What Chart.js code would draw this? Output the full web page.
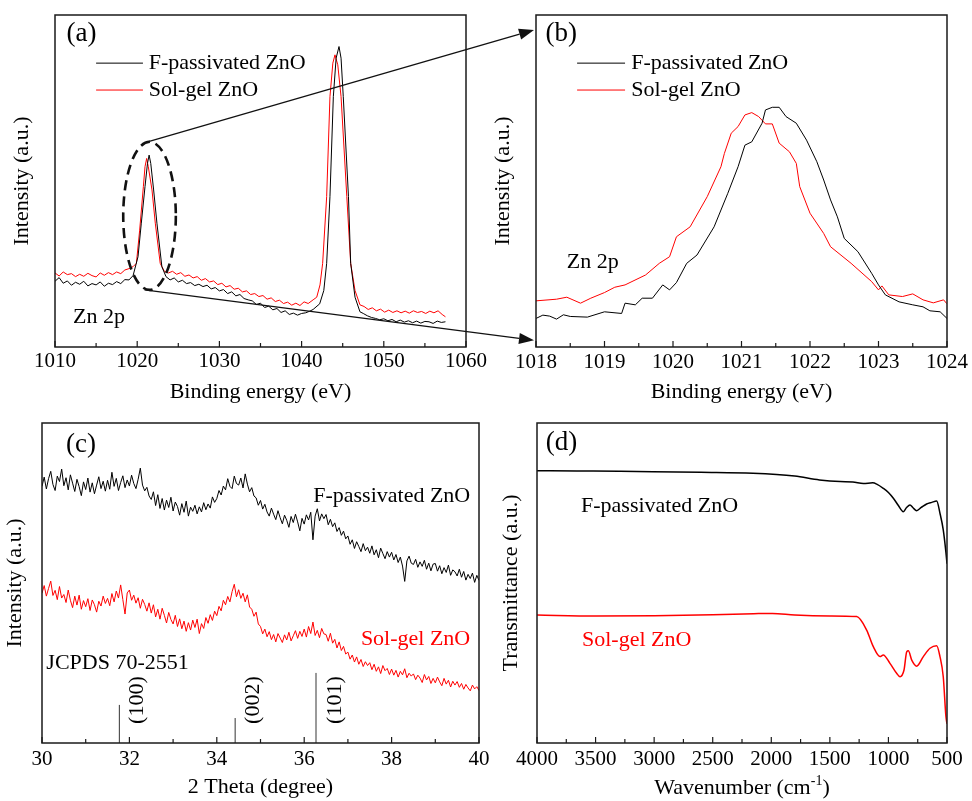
<!DOCTYPE html>
<html>
<head>
<meta charset="utf-8">
<script src="https://cdn.jsdelivr.net/npm/chart.js@4.4.1/dist/chart.umd.min.js"></script>
<style>
html, body { margin: 0; padding: 0; background: #fff; }
#page { position: relative; width: 972px; height: 801px; overflow: hidden; }
#page canvas { position: absolute; }
</style>
</head>
<body>
<div id="page">
  <canvas id="chartA" width="500" height="405" style="left:0;top:0"></canvas>
  <canvas id="chartB" width="486" height="405" style="left:486px;top:0"></canvas>
  <canvas id="chartC" width="500" height="396" style="left:0;top:405px"></canvas>
  <canvas id="chartD" width="486" height="396" style="left:486px;top:405px"></canvas>
  <canvas id="overlay" width="972" height="801" style="left:0;top:0;pointer-events:none"></canvas>
</div>
<script>

// ---- data (intensity in arbitrary units, 0-100 of the frame) ----
const seriesNames = ['F-passivated ZnO', 'Sol-gel ZnO'];

// (a) XPS survey around Zn 2p
const aBlack = [[1010,19.8],[1010.5,20.9],[1011,19.2],[1011.5,19.9],[1012,18.6],[1012.5,19.5],[1013,18.9],[1013.5,19.8],[1014,18.4],[1014.5,19.1],[1015,18.7],[1015.5,19.6],[1016,18.3],[1016.5,19.2],[1017,18.8],[1017.5,19.7],[1018,19.1],[1018.5,20.3],[1019,20.2],[1019.5,21.5],[1020.1,27.2],[1020.5,37.3],[1020.95,48.3],[1021.25,55.3],[1021.45,57.8],[1021.65,55.3],[1022,47.3],[1022.4,37.3],[1023,24.2],[1023.5,21.2],[1024,20.2],[1024.5,20.8],[1025,19.6],[1025.5,20.1],[1026,19.1],[1026.5,19.4],[1027,18.5],[1027.5,18.9],[1028,18.2],[1028.5,18.6],[1029,17.5],[1029.5,17.9],[1030,16.9],[1030.5,17.3],[1031,16.1],[1031.5,16.6],[1032,15.4],[1032.5,15.8],[1033,14.6],[1033.5,14.2],[1034,13.9],[1034.5,12.8],[1035,13.2],[1035.5,11.9],[1036,12.3],[1036.5,11.2],[1037,11.6],[1037.5,10.4],[1038,10.9],[1038.5,9.8],[1039,10.2],[1039.5,9.6],[1040,10.1],[1040.5,10.3],[1041,10.8],[1041.4,11.3],[1042.2,13],[1042.7,17],[1043.05,25.2],[1043.45,45.3],[1043.86,75.4],[1044.2,87],[1044.55,90.5],[1044.8,87],[1045.07,75.4],[1045.7,45.3],[1045.97,25.2],[1046.5,15],[1047.1,10.6],[1047.5,10.1],[1048,9.4],[1048.5,8.9],[1049,8.6],[1049.5,8.2],[1050,8.5],[1050.5,7.9],[1051,8.3],[1051.5,7.6],[1052,8.1],[1052.5,7.5],[1053,7.9],[1053.5,7.3],[1054,7.8],[1054.5,7.2],[1055,7.7],[1055.5,7.6],[1056,7.1],[1056.5,7.8],[1057,7.4],[1057.5,7.6]];
const aRed = [[1010,22.3],[1010.5,21.4],[1011,22.6],[1011.5,21.8],[1012,22.1],[1012.5,21.2],[1013,21.9],[1013.5,21.3],[1014,22.2],[1014.5,21.5],[1015,21.1],[1015.5,22.3],[1016,21.6],[1016.5,22.4],[1017,21.8],[1017.5,22.6],[1018,22.1],[1018.5,23.2],[1019,23.6],[1019.5,24.2],[1019.9,25.2],[1020.3,35.2],[1020.75,48.3],[1020.95,54.3],[1021.15,56.8],[1021.35,54.3],[1021.8,47.3],[1022.2,37.3],[1022.8,25.2],[1023.3,22.8],[1023.8,22.3],[1024.3,22.8],[1024.8,21.9],[1025.3,22.4],[1025.8,21.3],[1026.3,21.7],[1026.8,20.8],[1027.3,21.2],[1027.8,20.1],[1028.3,20.6],[1028.8,19.6],[1029.3,19.9],[1029.8,18.8],[1030.3,19.2],[1030.8,18.1],[1031.3,18.5],[1031.8,17.4],[1032.3,17.7],[1032.8,16.6],[1033.3,16.9],[1033.8,15.8],[1034.3,16.1],[1034.8,15.2],[1035.3,15.5],[1035.8,14.4],[1036.3,14.8],[1036.8,13.7],[1037.3,14.1],[1037.8,13.1],[1038.3,13.5],[1038.8,12.6],[1039.3,13.2],[1039.8,12.5],[1040.3,13.6],[1040.8,13.1],[1041.4,14.2],[1041.84,15],[1042.24,18.7],[1042.56,25.2],[1043.05,45.3],[1043.45,75.4],[1043.8,85.5],[1044.06,88],[1044.4,85],[1044.8,75.4],[1045.5,45.3],[1045.97,25.2],[1046.5,17],[1047.1,12.7],[1047.6,12.2],[1048.1,11.3],[1048.6,11.8],[1049.1,10.9],[1049.6,11.4],[1050.1,10.5],[1050.6,11.1],[1051.1,10.4],[1051.6,10.9],[1052.1,10.3],[1052.6,10.8],[1053.1,10.2],[1053.6,10.9],[1054.1,10.4],[1054.6,10.7],[1055.1,10.1],[1055.6,10.8],[1056.1,10.3],[1056.6,10.9],[1057.1,9.8],[1057.5,9.1]];

// (b) zoom on the Zn 2p3/2 peak
const bBlack = [[1018,8.6],[1018.1,9.6],[1018.2,9.3],[1018.3,8.4],[1018.4,9.7],[1018.5,9.2],[1018.75,9.0],[1019,10.6],[1019.25,10.1],[1019.3,13.2],[1019.45,12.7],[1019.55,14.7],[1019.7,14.7],[1019.85,18.7],[1019.95,17.2],[1020.05,19.4],[1020.2,25.2],[1020.35,27.7],[1020.6,36.2],[1020.8,46.3],[1020.95,54.3],[1021.05,60.8],[1021.15,61.8],[1021.3,67.4],[1021.35,71.4],[1021.45,72.2],[1021.55,72.2],[1021.65,69.4],[1021.8,67.4],[1021.95,62.3],[1022.1,55.8],[1022.2,50.3],[1022.3,44.3],[1022.4,39.2],[1022.5,32.7],[1022.7,28.7],[1022.9,22.2],[1023,18.7],[1023.1,15.7],[1023.3,13.6],[1023.5,12.7],[1023.65,12.1],[1023.75,10.9],[1023.9,10.6],[1024,8.6]];
const bRed = [[1018,13.9],[1018.3,14.4],[1018.45,15],[1018.65,13.2],[1018.8,14.7],[1019,16.4],[1019.15,18],[1019.3,18.7],[1019.6,21.7],[1019.8,25.2],[1019.95,27.2],[1020.05,33.2],[1020.25,36.2],[1020.5,45.3],[1020.7,54.3],[1020.75,58.3],[1020.85,64.4],[1020.95,66.4],[1021.05,69.9],[1021.15,70.6],[1021.25,69.4],[1021.35,67.2],[1021.45,67.2],[1021.55,61.4],[1021.7,58.8],[1021.8,55.3],[1021.85,48.3],[1022,40.3],[1022.2,34.2],[1022.3,30.2],[1022.6,25.2],[1022.9,19.7],[1023,17.2],[1023.05,18.4],[1023.15,15.7],[1023.35,15.2],[1023.5,16],[1023.65,14.2],[1023.8,13.3],[1023.95,14.2],[1024,13]];

// (c) XRD, 2theta sampled every 0.05 degree from 30
const cStart = 30, cStep = 0.05;
const cBlack = [80.2,83.1,79.4,82.6,84.9,80.8,78.9,83.4,81.7,85.6,
  80.4,82.9,79.1,83.8,81.2,78.6,82.4,80.1,77.3,81.6,
  79.2,82.8,78.4,81.3,77.9,80.6,83.2,79.5,81.8,78.7,
  82.1,79.3,84.6,80.2,82.7,78.9,81.4,83.5,79.8,82.2,
  80.3,83.7,81.1,79.5,82.4,85.9,80.6,78.8,79.9,77.2,
  76.1,78.5,74.2,77.6,73.3,76.4,72.8,75.9,73.6,76.8,
  72.5,75.3,73.9,71.2,74.8,72.1,75.6,70.9,73.7,72.4,
  74.3,71.6,73.8,72.2,75.1,72.9,74.7,73.4,76.9,75.2,
  76.4,78.9,77.5,80.3,79.1,82.6,80.2,79.5,83.4,81.1,
  80.6,82.8,79.7,84.1,80.9,78.5,79.8,77.2,76.6,74.3,
  75.8,73.1,74.6,72.2,70.9,73.4,71.5,69.8,72.6,70.4,
  68.5,71.2,69.6,67.4,70.8,68.9,71.5,69.1,66.3,70.2,
  68.4,71.3,69.7,72.1,63.5,70.9,73.2,69.4,71.6,70.1,
  71.4,68.2,69.9,67.6,68.8,66.1,67.3,64.9,66.2,63.8,
  64.7,62.1,63.5,60.8,62.9,61.4,59.8,62.3,60.1,61.2,
  59.3,61.6,58.8,60.4,57.9,60.9,59.2,57.6,59.8,58.1,
  59.6,57.2,58.9,56.4,58.1,55.3,50.5,56.9,58.4,56.2,
  55.8,57.4,54.9,56.6,55.2,57.1,54.3,56.2,53.8,55.9,
  56.1,53.7,55.4,52.9,54.8,53.3,55.6,52.4,54.1,53.5,
  52.2,54.3,51.8,53.6,50.9,52.7,51.4,53.1,50.2,52.4,
  50.8];
const cRed = [46.8,49.2,45.9,48.3,50.6,46.1,47.7,44.8,48.9,45.3,
  46.4,43.9,47.8,44.6,42.3,45.9,43.1,46.2,41.8,44.5,
  42.6,45.1,41.4,44.7,43.2,40.9,44.3,42.8,45.9,43.6,
  45.2,42.9,46.7,44.1,47.5,45.3,49.4,44.8,40.3,46.9,
  47.8,44.6,46.2,43.7,45.4,42.1,44.9,43.3,41.2,43.8,
  40.6,43.2,39.4,41.8,38.7,42.1,39.9,37.5,40.8,38.6,
  37.2,39.9,36.4,38.8,35.7,38.1,34.9,37.6,35.3,38.4,
  36.1,38.7,34.2,37.3,35.8,39.2,37.4,40.1,38.3,41.2,
  39.8,42.7,41.3,44.6,43.2,45.8,44.1,47.3,49.6,45.7,
  47.9,45.2,46.8,44.1,46.3,42.5,41.8,39.6,40.9,37.2,
  36.4,34.1,35.6,33.2,34.8,32.3,33.9,31.6,34.2,32.8,
  31.4,33.8,32.2,34.6,31.9,33.5,35.1,32.7,34.9,33.3,
  35.6,33.1,36.4,34.2,37.8,33.6,35.2,32.9,35.8,34.1,
  33.9,31.8,34.3,31.2,32.4,29.7,31.6,28.9,30.2,27.8,
  28.4,26.2,27.5,25.3,26.9,24.6,26.1,23.9,25.4,24.2,
  25.1,22.9,24.6,22.4,23.8,21.7,24.2,22.6,23.3,21.4,
  23.1,21.2,22.7,20.6,22.4,21.3,23.2,20.4,21.8,20.9,
  21.6,19.8,21.2,20.3,18.9,21.4,19.7,20.8,18.6,20.2,
  18.8,20.6,19.1,17.9,20.2,18.4,19.6,17.5,19.3,18.1,
  19.2,17.4,18.6,16.8,18.3,17.2,16.3,18.1,16.9,17.6,
  16.4];
const jcpdsPos = [31.77, 34.42, 36.27];
const jcpdsHeight = [11.9, 7.8, 21.9];
const jcpdsHkl = ['(100)', '(002)', '(101)'];

// (d) FTIR
const dBlack = [[4000,85.1],[3660,85],[3300,84.9],[3010,84.8],[2600,84.6],[2157,84.3],[1800,83.4],[1589,82.2],[1413,81.7],[1304,81.6],[1214,81.1],[1134,81.3],[1100,80.9],[1044,79.6],[1000,78.3],[958,76.5],[915,74.2],[873,72.3],[845,73.6],[816,74.4],[790,73.5],[759,72.6],[720,73.6],[674,74.7],[630,75.2],[588,75.6],[560,71.8],[532,66.6],[509,59.5],[500,56]];
const dRed = [[4000,40],[3500,39.7],[3000,39.8],[2500,40.1],[2150,40.4],[1990,40.5],[1800,40],[1500,39.7],[1271,39.5],[1186,35.3],[1129,30.1],[1072,27],[1044,27.5],[987,24.9],[930,21.8],[901,20.7],[867,22.8],[844,28.5],[830,28.8],[801,25.9],[759,24],[702,27],[645,29.6],[588,30.4],[560,27],[532,20.7],[509,8.2],[500,6]];

// ---- drawing ----
const SERIF = "'Liberation Serif', 'Times New Roman', serif";
Chart.defaults.font.family = SERIF;
Chart.defaults.color = '#000';

const pts = arr => arr.map(p => ({x: p[0], y: p[1]}));
const gridPts = ys => ys.map((y, i) => ({x: +(cStart + i * cStep).toFixed(2), y: y}));

function spectrum(label, color, data, width, order, smooth) {
  return {
    label: label, data: data, borderColor: color, backgroundColor: color,
    borderWidth: width, pointRadius: 0, fill: false, order: order,
    tension: 0, cubicInterpolationMode: smooth ? 'monotone' : 'default'
  };
}

// frame, inward ticks, legend and text notes
const panelDecor = {
  id: 'panelDecor',
  afterDatasetsDraw(chart, args, opts) {
    const ctx = chart.ctx, ca = chart.chartArea;
    const x = chart.scales.x, y = chart.scales.y;
    ctx.save();
    ctx.strokeStyle = '#1a1a1a';
    ctx.lineWidth = 1.5;
    ctx.strokeRect(ca.left, ca.top, ca.right - ca.left, ca.bottom - ca.top);

    ctx.lineWidth = 1.2;
    const n = Math.round((x.max - x.min) / opts.minor);
    for (let i = 0; i <= n; i++) {
      const v = x.min + i * opts.minor;
      const px = x.getPixelForValue(v);
      const len = (i % 2 === 0) ? 6 : 4;
      ctx.beginPath();
      ctx.moveTo(px, ca.bottom);
      ctx.lineTo(px, ca.bottom - len);
      ctx.stroke();
    }

    if (opts.legend) {
      const lg = opts.legend;
      ctx.font = '22px ' + SERIF;
      ctx.textBaseline = 'middle';
      ctx.textAlign = 'left';
      lg.rows.forEach((row, i) => {
        const ds = chart.data.datasets[i];
        const py = y.getPixelForValue(row);
        ctx.strokeStyle = ds.borderColor;
        ctx.lineWidth = 1;
        ctx.beginPath();
        ctx.moveTo(x.getPixelForValue(lg.x0), py);
        ctx.lineTo(x.getPixelForValue(lg.x1), py);
        ctx.stroke();
        ctx.fillStyle = '#000';
        ctx.fillText(ds.label, x.getPixelForValue(lg.tx), py);
      });
    }

    (opts.notes || []).forEach(nt => {
      const px = x.getPixelForValue(nt.x), py = y.getPixelForValue(nt.y);
      ctx.font = (nt.size || 22) + 'px ' + SERIF;
      ctx.fillStyle = nt.color || '#000';
      ctx.textBaseline = 'middle';
      if (nt.rot) {
        ctx.save();
        ctx.translate(px, py);
        ctx.rotate(-Math.PI / 2);
        ctx.textAlign = 'center';
        ctx.fillText(nt.text, 0, 0);
        ctx.restore();
      } else {
        ctx.textAlign = nt.align || 'left';
        ctx.fillText(nt.text, px, py);
      }
    });

    if (opts.supTitle) {
      const st = opts.supTitle;
      ctx.fillStyle = '#000';
      ctx.textBaseline = 'alphabetic';
      ctx.textAlign = 'left';
      ctx.font = '22px ' + SERIF;
      const w1 = ctx.measureText(st.main).width;
      const w3 = ctx.measureText(st.tail).width;
      ctx.font = '14px ' + SERIF;
      const w2 = ctx.measureText(st.sup).width;
      let sx = (ca.left + ca.right) / 2 - (w1 + w2 + w3) / 2;
      const base = chart.height - st.fromBottom;
      ctx.font = '22px ' + SERIF;
      ctx.fillText(st.main, sx, base);
      ctx.font = '14px ' + SERIF;
      ctx.fillText(st.sup, sx + w1, base - 9);
      ctx.font = '22px ' + SERIF;
      ctx.fillText(st.tail, sx + w1 + w2, base);
    }
    ctx.restore();
  }
};

function makePanel(id, cfg) {
  return new Chart(document.getElementById(id), {
    type: 'line',
    data: {datasets: cfg.datasets},
    options: {
      responsive: false,
      animation: false,
      events: [],
      layout: {padding: {left: 0, top: cfg.padTop, right: cfg.padRight, bottom: 0}},
      plugins: {
        legend: {display: false},
        tooltip: {enabled: false},
        panelDecor: cfg.decor
      },
      scales: {
        x: {
          type: 'linear', min: cfg.xMin, max: cfg.xMax, reverse: !!cfg.reverse,
          grid: {display: false, drawTicks: false},
          border: {display: false},
          ticks: {stepSize: cfg.step, autoSkip: false, maxRotation: 0, padding: cfg.tickPad,
                  font: {size: 21}, color: '#000', callback: v => String(v)},
          title: {display: !!cfg.xTitle, text: cfg.xTitle, font: {size: 22}, color: '#000',
                  padding: {top: 0, bottom: cfg.xTitlePad}},
          afterFit: s => { s.height = cfg.xAxisH; }
        },
        y: {
          min: 0, max: 100,
          grid: {display: false, drawTicks: false},
          border: {display: false},
          ticks: {display: false},
          title: {display: true, text: cfg.yTitle, font: {size: 22}, color: '#000',
                  padding: {top: cfg.yTitlePad, bottom: 0}},
          afterFit: s => { s.width = cfg.yAxisW; }
        }
      }
    },
    plugins: [panelDecor]
  });
}

const chartA = makePanel('chartA', {
  datasets: [spectrum(seriesNames[0], '#000000', pts(aBlack), 1, 0),
             spectrum(seriesNames[1], '#ff0000', pts(aRed), 1, 1)],
  xMin: 1010, xMax: 1060, step: 10, tickPad: 2,
  padTop: 15, padRight: 34, xAxisH: 58, yAxisW: 55, xTitlePad: 0, yTitlePad: 9,
  xTitle: 'Binding energy (eV)', yTitle: 'Intensity (a.u.)',
  decor: {minor: 5,
    legend: {x0: 1015, x1: 1020.7, tx: 1021.4, rows: [85.5, 77.4]},
    notes: [{text: '(a)', x: 1011.4, y: 94.4, size: 27},
            {text: 'Zn 2p', x: 1012.2, y: 9}]}
});

const chartB = makePanel('chartB', {
  datasets: [spectrum(seriesNames[0], '#000000', pts(bBlack), 1, 0),
             spectrum(seriesNames[1], '#ff0000', pts(bRed), 1, 1)],
  xMin: 1018, xMax: 1024, step: 1, tickPad: 3,
  padTop: 15, padRight: 25, xAxisH: 58, yAxisW: 50, xTitlePad: 0, yTitlePad: 4,
  xTitle: 'Binding energy (eV)', yTitle: 'Intensity (a.u.)',
  decor: {minor: 0.5,
    legend: {x0: 1018.6, x1: 1019.3, tx: 1019.39, rows: [85.5, 77.4]},
    notes: [{text: '(b)', x: 1018.14, y: 94.4, size: 27},
            {text: 'Zn 2p', x: 1018.45, y: 25.6}]}
});

const stickSets = jcpdsPos.map((p, i) => ({
  label: jcpdsHkl[i], data: [{x: p, y: 0}, {x: p, y: jcpdsHeight[i]}],
  borderColor: i === 2 ? '#9a9a9a' : '#333333', borderWidth: i === 2 ? 2 : 1,
  pointRadius: 0, fill: false, order: 2
}));

const chartC = makePanel('chartC', {
  datasets: [spectrum(seriesNames[0], '#000000', gridPts(cBlack), 1, 0),
             spectrum(seriesNames[1], '#ff0000', gridPts(cRed), 1, 1)].concat(stickSets),
  xMin: 30, xMax: 40, step: 2, tickPad: 4,
  padTop: 18, padRight: 21, xAxisH: 58, yAxisW: 42, xTitlePad: 1, yTitlePad: 2,
  xTitle: '2 Theta (degree)', yTitle: 'Intensity (a.u.)',
  decor: {minor: 1,
    notes: [{text: '(c)', x: 30.55, y: 93.1, size: 27},
            {text: seriesNames[0], x: 39.8, y: 77.2, align: 'right'},
            {text: seriesNames[1], x: 39.8, y: 32.5, align: 'right', color: '#ff0000'},
            {text: 'JCPDS 70-2551', x: 30.1, y: 25}]
      .concat(jcpdsPos.map((p, i) => ({text: jcpdsHkl[i], x: p + [0.4, 0.41, 0.43][i], y: 13.4, rot: true})))}
});

const chartD = makePanel('chartD', {
  datasets: [spectrum(seriesNames[0], '#000000', pts(dBlack), 1.5, 0, true),
             spectrum(seriesNames[1], '#ff0000', pts(dRed), 1.5, 1, true)],
  xMin: 500, xMax: 4000, step: 500, reverse: true, tickPad: 4,
  padTop: 18, padRight: 25, xAxisH: 58, yAxisW: 51, xTitlePad: 1, yTitlePad: 12,
  xTitle: '', yTitle: 'Transmittance (a.u.)',
  decor: {minor: 250,
    notes: [{text: '(d)', x: 3925, y: 93.7, size: 27},
            {text: seriesNames[0], x: 3624, y: 74},
            {text: seriesNames[1], x: 3616, y: 32.2, color: '#ff0000'}],
    supTitle: {main: 'Wavenumber (cm', sup: '-1', tail: ')', fromBottom: 7}}
});

// dashed ellipse on panel (a) and the two arrows leading to panel (b)
const zoomCenter = [1021.5, 39.5];
const zoomRadius = [3.2, 22.3];
const arrowTipY = [95.5, 2];

function drawZoomMarks() {
  const ov = document.getElementById('overlay').getContext('2d');
  const ax = chartA.scales.x, ay = chartA.scales.y;
  const cx = ax.getPixelForValue(zoomCenter[0]);
  const cy = ay.getPixelForValue(zoomCenter[1]);
  const rx = ax.getPixelForValue(zoomCenter[0] + zoomRadius[0]) - cx;
  const ry = cy - ay.getPixelForValue(zoomCenter[1] + zoomRadius[1]);
  ov.save();
  ov.strokeStyle = '#111';
  ov.lineWidth = 2.6;
  ov.setLineDash([10, 6]);
  ov.beginPath();
  ov.ellipse(cx, cy, rx, ry, 0, 0, Math.PI * 2);
  ov.stroke();
  ov.setLineDash([]);

  const offB = 486;
  const tipX = offB + chartB.chartArea.left - 2;
  const tips = arrowTipY.map(v => chartB.scales.y.getPixelForValue(v));
  const starts = [[cx - 2, cy - ry], [cx - 5, cy + ry]];
  ov.lineWidth = 1.3;
  ov.fillStyle = '#111';
  starts.forEach((s, i) => {
    const ex = tipX, ey = tips[i];
    const ang = Math.atan2(ey - s[1], ex - s[0]);
    const hl = 15, hw = 5.5;
    const bx = ex - hl * Math.cos(ang), by = ey - hl * Math.sin(ang);
    ov.beginPath();
    ov.moveTo(s[0], s[1]);
    ov.lineTo(bx, by);
    ov.stroke();
    ov.beginPath();
    ov.moveTo(ex, ey);
    ov.lineTo(bx + hw * Math.sin(ang), by - hw * Math.cos(ang));
    ov.lineTo(bx - hw * Math.sin(ang), by + hw * Math.cos(ang));
    ov.closePath();
    ov.fill();
  });
  ov.restore();
}

drawZoomMarks();
</script>
</body>
</html>
